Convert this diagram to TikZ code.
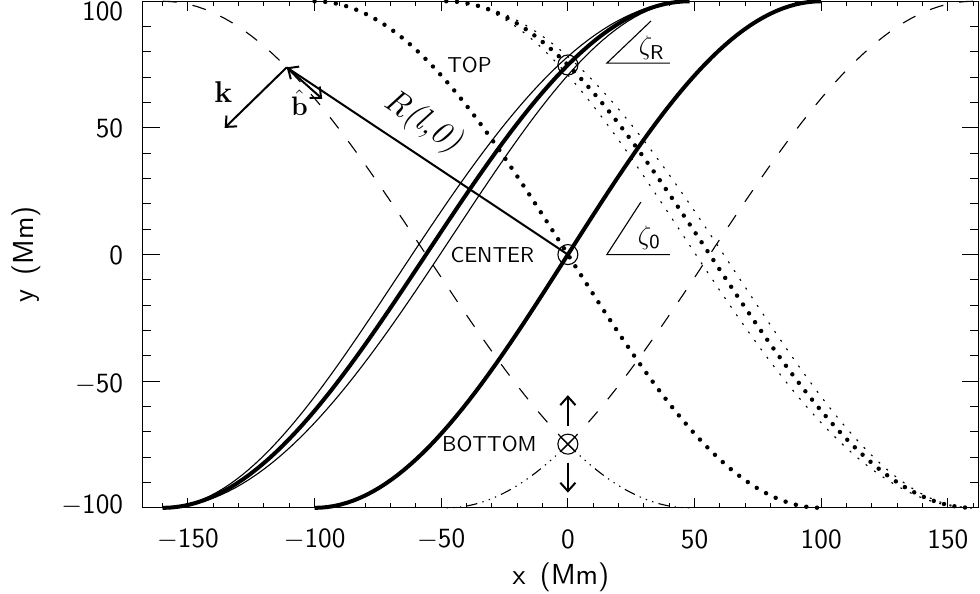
\documentclass[tikz,border=0pt]{standalone}
\usepackage{xcolor}
\usepackage{amsmath}
\usepackage{tikz}
\usetikzlibrary{arrows.meta, positioning, calc}

\begin{document}
\begin{tikzpicture}[
  x=0.04cm, y=0.04cm,
  frame/.style={line width=0.5pt},
  ticklab/.style={font=\sffamily\fontsize{12.5}{14}\selectfont},
  axtitle/.style={font=\sffamily\fontsize{13}{15}\selectfont},
  tag/.style={inner sep=0pt, font=\sffamily\fontsize{9.7}{11}\selectfont},
  marker/.style={circle, draw, line width=0.5pt, inner sep=0pt, minimum size=0.316cm},
  fieldline/.style={line width=1.8pt},
  thinline/.style={line width=0.5pt},
  dotline/.style={line width=2pt, line cap=round, dash pattern=on 0pt off 4.8pt},
  thindot/.style={line width=0.5pt, dash pattern=on 0.9pt off 3.8pt},
  longdash/.style={line width=0.5pt, dash pattern=on 6.3pt off 7.2pt},
  dashdots/.style={line width=0.5pt, dash pattern=on 5pt off 2.4pt on 0.6pt off 2.4pt on 0.6pt off 2.4pt on 0.6pt off 2.4pt},
  vec/.style={line width=0.9pt, -{Straight Barb[length=3.8pt,width=6.8pt]}}
]
  \useasboundingbox (-224.2,-134) rectangle (162.7,100.5);

  % frame and ticks
  \draw[frame] (-167.8,-100) rectangle (162.2,100);
  \foreach \x in {-160,-150,...,160} {
    \draw[frame] (\x,-100) -- ++(0,2);
    \draw[frame] (\x,100) -- ++(0,-2);
  }
  \foreach \x/\lab in {-150/{$-$150},-100/{$-$100},-50/{$-$50},0/0,50/50,100/100,150/150} {
    \draw[frame] (\x,-100) -- ++(0,3.95);
    \draw[frame] (\x,100) -- ++(0,-3.95);
    \node[ticklab] at (\x,-112.3) {\lab};
  }
  \foreach \y in {-100,-90,...,100} {
    \draw[frame] (-167.8,\y) -- ++(3.3,0);
    \draw[frame] (162.2,\y) -- ++(-3.3,0);
  }
  \foreach \y/\ly/\lab in {-100/-98.8/{$-$100},-50/-51/{$-$50},0/-0.5/0,50/50/50,100/96/100} {
    \draw[frame] (-167.8,\y) -- ++(6.6,0);
    \draw[frame] (162.2,\y) -- ++(-6.6,0);
    \node[ticklab, anchor=east] at (-172.5,\ly) {\lab};
  }
  \node[axtitle] (xtitle) at (-2.8,-127.3) {x\enspace(Mm)};
  \node[axtitle, rotate=90] (ytitle) at (-214,0) {y\enspace(Mm)};

  % field lines
  \draw[fieldline] plot[domain=-90:90, samples=80, variable=\t] ({100*\t/90}, {100*sin(\t)});
  \draw[fieldline] plot[domain=-90:90, samples=80, variable=\t] ({-56+104*\t/90}, {100*sin(\t)});
  \draw[thinline] plot[domain=-90:90, samples=80, variable=\t] ({-56+104*\t/90-5.5*cos(\t)}, {100*sin(\t)});
  \draw[thinline] plot[domain=-90:90, samples=80, variable=\t] ({-56+104*\t/90+5.5*cos(\t)}, {100*sin(\t)});
  \draw[dotline] plot[domain=90:-90, samples=80, variable=\t] ({-100*\t/90}, {100*sin(\t)});
  \draw[dotline] plot[domain=90:-90, samples=80, variable=\t] ({56-104*\t/90}, {100*sin(\t)});
  \draw[thindot] plot[domain=90:-90, samples=80, variable=\t] ({56-104*\t/90-5.5*cos(\t)}, {100*sin(\t)});
  \draw[thindot] plot[domain=90:-90, samples=80, variable=\t] ({56-104*\t/90+5.5*cos(\t)}, {100*sin(\t)});
  \draw[longdash] plot[domain=-48.46:90, samples=60, variable=\t] ({56+104*\t/90}, {100*sin(\t)});
  \draw[dashdots] plot[domain=-48.46:-90, samples=30, variable=\t] ({56+104*\t/90}, {100*sin(\t)});
  \draw[longdash] plot[domain=-48.46:90, samples=60, variable=\t] ({-56-104*\t/90}, {100*sin(\t)});
  \draw[dashdots] plot[domain=-48.46:-90, samples=30, variable=\t] ({-56-104*\t/90}, {100*sin(\t)});

  % markers
  \node[marker] (top) at (0,74.85) {};
  \node[marker] (cen) at (0,0) {};
  \node[marker] (bot) at (0,-74.85) {};
  \draw[thinline] (bot.north west) -- (bot.south east) (bot.north east) -- (bot.south west);
  \node[tag, left=1.03cm of top] (toplab) {TOP};
  \node[tag, left=0.36cm of cen] (cenlab) {CENTER};
  \node[tag, left=0.32cm of bot] (botlab) {BOTTOM};

  % vectors
  \coordinate (vtx) at (-111,73.9);
  \coordinate (bhat) at (-97,61.5);
  \coordinate (kend) at (-135.5,50);
  \coordinate (bup) at (0,-55.5);
  \coordinate (bdn) at (0,-94);
  \draw[vec] (cen.center) -- (vtx);
  \draw[vec] (vtx) -- (bhat);
  \draw[vec] (vtx) -- (kend);
  \draw[vec, shorten <=3.3pt] (bot) -- (bup);
  \draw[vec, shorten <=3.6pt] (bot) -- (bdn);
  \node[font=\fontsize{13.5}{15}\selectfont\bfseries] (klab) at (-136,64) {k};
  \node[font=\fontsize{13}{15}\selectfont] (blab) at (-106,59.8) {$\hat{\mathbf{b}}$};
  \node[rotate=-33.7, font=\fontsize{15}{17}\selectfont] (rlab) at (-57.2,52.3) {\textit{R(l,0)}};

  % angles
  \draw[thinline] (40.3,75.6) -- (15.4,75.6) -- (32.8,92.2);
  \node[anchor=west, inner sep=0pt, font=\fontsize{12.5}{14}\selectfont] (zetaR) at (27.8,81.5) {$\zeta_{\mathsf{R}}$};
  \draw[thinline] (40.3,0) -- (15.4,0) -- (28.8,20.7);
  \node[anchor=west, inner sep=0pt, font=\fontsize{12.5}{14}\selectfont] (zeta0) at (27.5,6.5) {$\zeta_{\mathsf{0}}$};
\end{tikzpicture}
\end{document}
